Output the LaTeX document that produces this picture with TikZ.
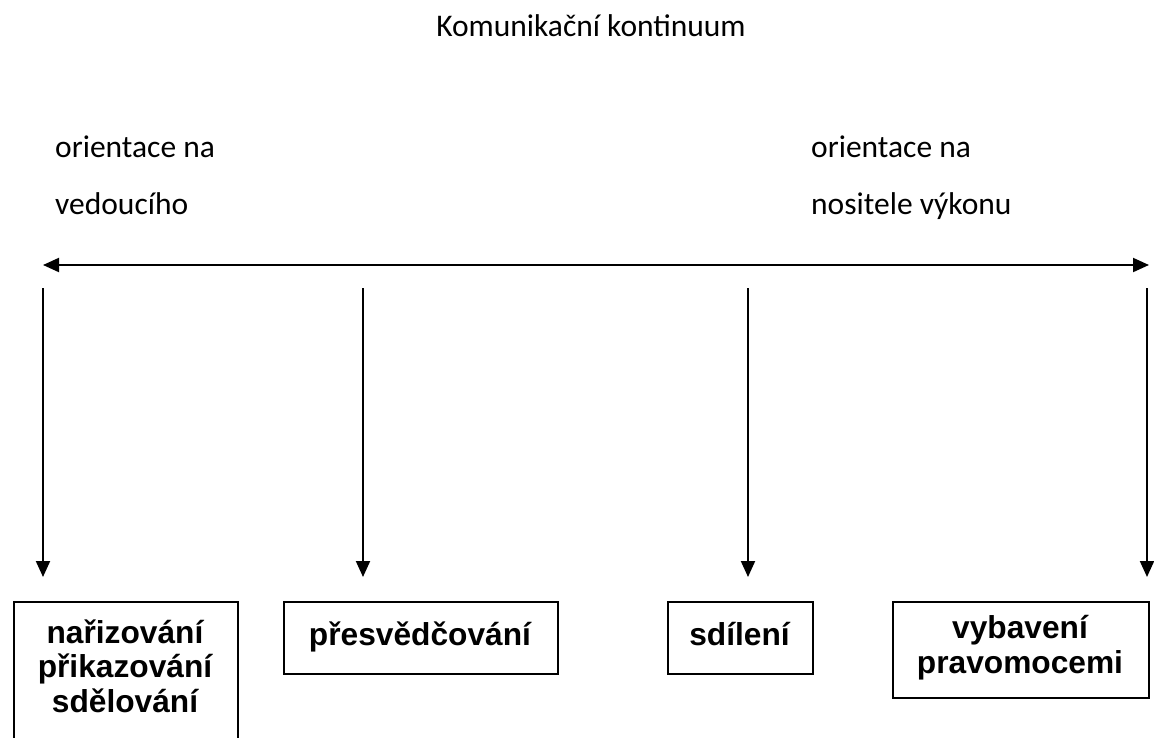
\documentclass[tikz,border=0pt]{standalone}
\usepackage{fontspec}
\setmainfont{Carlito}
\newfontfamily\boxfont{Liberation Sans}
\usetikzlibrary{arrows.meta}
\tikzset{
  conn/.style={line width=2pt, -{Triangle[length=16pt,width=14pt]}},
  both/.style={line width=2pt, {Triangle[length=16pt,width=14pt]}-{Triangle[length=16pt,width=14pt]}},
  lbl/.style={inner sep=0pt, font=\fontsize{31.5}{40}\selectfont},
  boxed/.style={draw, line width=2pt, inner sep=0pt, anchor=north west},
  btext/.style={inner sep=0pt, align=center, anchor=base, font=\boxfont\bfseries\fontsize{31.7}{34.5}\selectfont}
}
\begin{document}
\begin{tikzpicture}[x=1pt,y=-1pt]
\useasboundingbox (0,0) rectangle (1154,737);
\node[lbl, anchor=base] (title) at (591,36) {Komunikační kontinuum};
\node[lbl, anchor=base west] (l1) at (55,157) {orientace na};
\node[lbl, anchor=base west] (l2) at (55,214) {vedoucího};
\node[lbl, anchor=base west] (r1) at (811,157) {orientace na};
\node[lbl, anchor=base west] (r2) at (811,214) {nositele výkonu};
\coordinate (hl) at (43,265);
\coordinate (hr) at (1149,265);
\draw[both] (hl) -- (hr);
\coordinate (s1) at (43,288);  \coordinate (e1) at (43,577);
\coordinate (s2) at (363,288); \coordinate (e2) at (363,577);
\coordinate (s3) at (748,288); \coordinate (e3) at (748,577);
\coordinate (s4) at (1147,288); \coordinate (e4) at (1147,577);
\draw[conn] (s1) -- (e1);
\draw[conn] (s2) -- (e2);
\draw[conn] (s3) -- (e3);
\draw[conn] (s4) -- (e4);
\node[boxed, minimum width=224pt, minimum height=160pt] (b1) at (13,601) {};
\node[btext] (t1) at (125,712) {nařizování\\přikazování\\sdělování};
\node[boxed, minimum width=274pt, minimum height=72pt] (b2) at (283,601) {};
\node[btext] (t2) at (420,645) {přesvědčování};
\node[boxed, minimum width=145pt, minimum height=72pt] (b3) at (667,601) {};
\node[btext] (t3) at (739.5,645) {sdílení};
\node[boxed, minimum width=256pt, minimum height=96pt] (b4) at (892,601) {};
\node[btext] (t4) at (1020,673) {vybavení\\pravomocemi};
\end{tikzpicture}
\end{document}
